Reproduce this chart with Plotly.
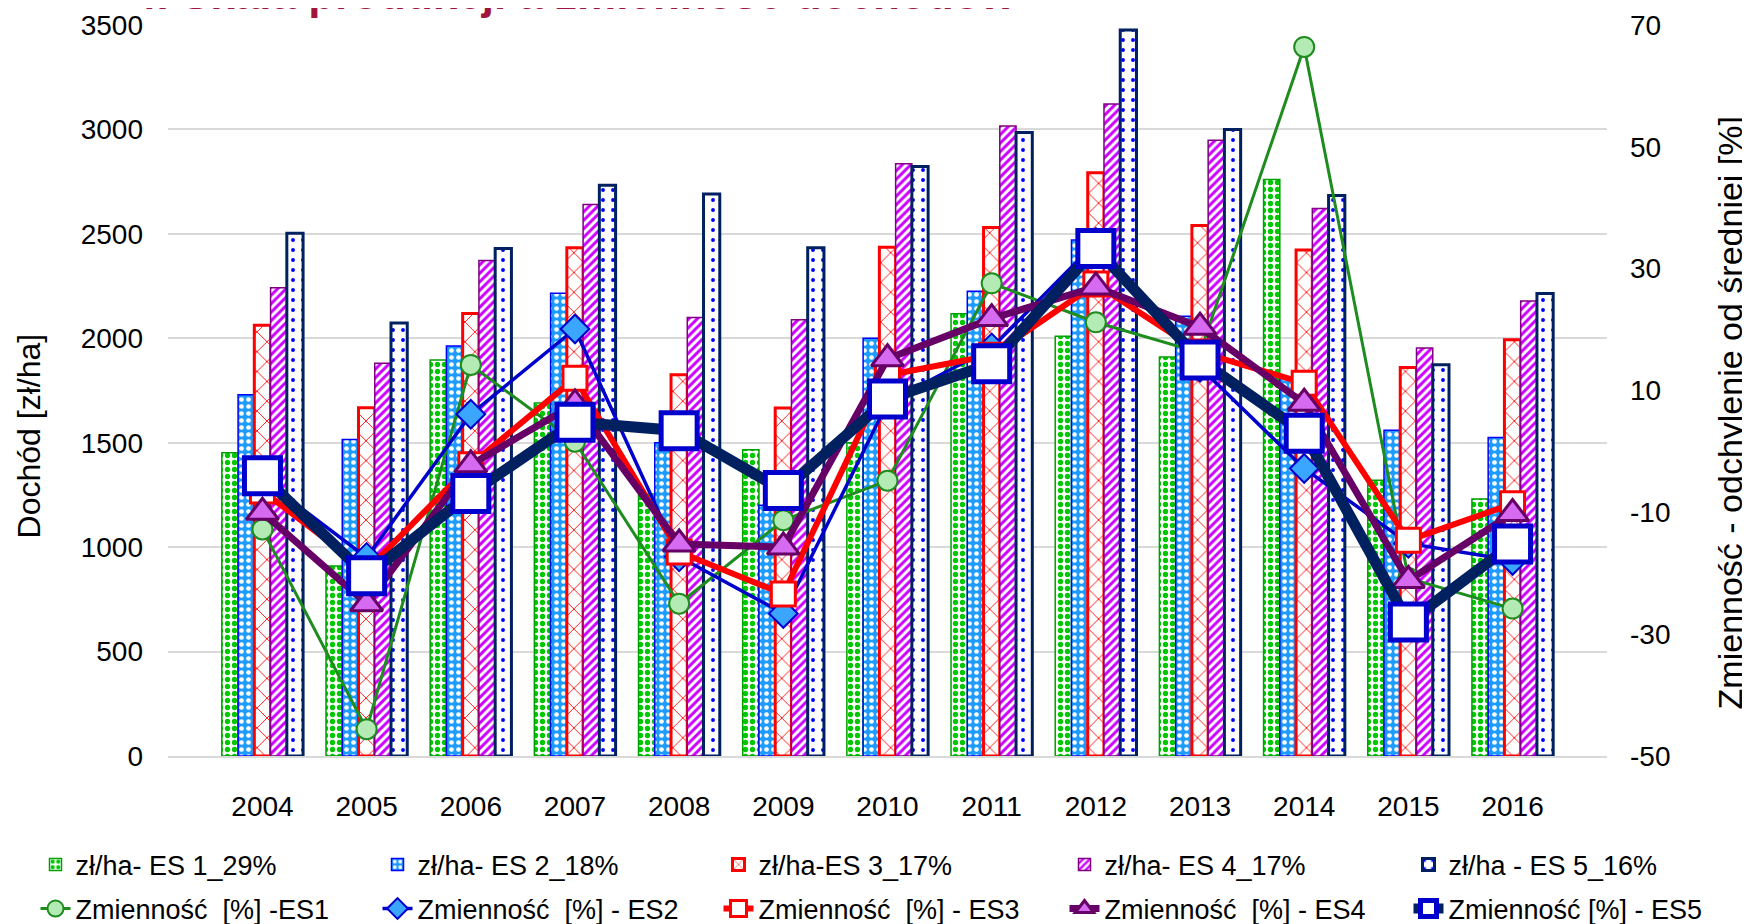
import plotly.graph_objects as go

years = [str(y) for y in range(2004, 2017)]

# income [zl/ha] per farm size class (bars, left axis)
inc_es1 = [1452, 910, 1896, 1690, 1255, 1466, 1500, 2118, 2010, 1910, 2760, 1320, 1230]
inc_es2 = [1730, 1515, 1963, 2216, 1500, 1200, 2000, 2225, 2470, 2106, 1810, 1560, 1525]
inc_es3 = [2063, 1668, 2119, 2434, 1825, 1666, 2436, 2530, 2792, 2540, 2423, 1860, 1993]
inc_es4 = [2242, 1881, 2372, 2640, 2100, 2089, 2836, 3017, 3122, 2948, 2621, 1954, 2179]
inc_es5 = [2503, 2073, 2430, 2733, 2691, 2434, 2823, 2985, 3476, 3000, 2684, 1873, 2215]

# variability [%] - deviation from mean (lines, right axis)
var_es1 = [-12.8, -45.6, 14.2, 1.6, -25.0, -11.3, -4.8, 27.6, 21.2, 16.2, 66.4, -20.8, -25.8]
var_es2 = [-4.5, -17.4, 6.1, 20.1, -17.3, -26.6, 8.0, 17.0, 34.3, 13.8, -2.8, -15.1, -17.9]
var_es3 = [-6.5, -19.5, -2.2, 12.0, -16.5, -23.4, 12.5, 15.8, 27.5, 16.3, 11.2, -14.6, -8.6]
var_es4 = [-10.0, -25.0, -2.2, 7.8, -15.2, -15.7, 15.2, 21.8, 27.0, 20.4, 7.9, -21.2, -10.2]
var_es5 = [-4.0, -20.4, -6.9, 4.8, 3.4, -6.4, 8.6, 14.4, 33.3, 15.0, 3.0, -28.0, -15.2]

bar_names = ["zł/ha- ES 1_29%", "zł/ha- ES 2_18%", "zł/ha-ES 3_17%",
             "zł/ha- ES 4_17%", "zł/ha - ES 5_16%"]
line_names = ["Zmienność  [%] -ES1", "Zmienność  [%] - ES2", "Zmienność  [%] - ES3",
              "Zmienność  [%] - ES4", "Zmienność [%] - ES5"]

left_ticks = [0, 500, 1000, 1500, 2000, 2500, 3000, 3500]
right_ticks = [-50, -30, -10, 10, 30, 50, 70]
right_tick_labels = ["-50", "-30", "-10", "10", "30", "50", "70"]

FONT = "Liberation Sans, Arial, sans-serif"

# figure drawn inside the page's default 8px body margin
W, H = 1742, 916
ML, MR, MT, MB = 160, 143, 16.6, 168.4

bar_styles = [
    dict(bg="#FFFFFF", fg="#00C800", shape=".", size=7, sol=0.45, line="#00A000", lw=1.5),
    dict(bg="#1E9BFF", fg="#FFFFFF", shape=".", size=7, sol=0.35, line="#0000FF", lw=1.5),
    dict(bg="#FFFFFF", fg="#FF0000", shape="x", size=14, sol=0.12, line="#FF0000", lw=3),
    dict(bg="#FFFFFF", fg="#CC00FF", shape="/", size=6, sol=0.5, line="#800080", lw=1.5),
    dict(bg="#FFFFFF", fg="#0000FF", shape=".", size=10, sol=0.12, line="#002060", lw=3),
]
line_styles = [
    dict(color="#1E8C1E", width=3, symbol="circle", size=20, fill="#B4EBB4", mline="#1E8C1E", mlw=2),
    dict(color="#0000CC", width=3.5, symbol="diamond", size=22, fill="#3AA6FF", mline="#0000CC", mlw=2),
    dict(color="#FF0000", width=6, symbol="square", size=24, fill="#FFFFFF", mline="#FF0000", mlw=3),
    dict(color="#660066", width=7, symbol="triangle-up", size=28, fill="#D66BF2", mline="#660066", mlw=3),
    dict(color="#002060", width=11, symbol="square", size=36, fill="#FFFFFF", mline="#0000CC", mlw=5),
]
legend_ids = ["legend", "legend2", "legend3", "legend4", "legend5"]

fig = go.Figure()
for i, (vals, name, st, lg) in enumerate(zip([inc_es1, inc_es2, inc_es3, inc_es4, inc_es5],
                                               bar_names, bar_styles, legend_ids)):
    fig.add_trace(go.Bar(
        x=years, y=vals, name=name, yaxis="y", legend=lg, legendgroup=f"bar{i}",
        marker=dict(color=st["bg"],
                    line=dict(color=st["line"], width=st["lw"]),
                    pattern=dict(shape=st["shape"], fgcolor=st["fg"], bgcolor=st["bg"],
                                 size=st["size"], solidity=st["sol"], fillmode="replace")),
    ))

for i, (vals, name, st, lg) in enumerate(zip([var_es1, var_es2, var_es3, var_es4, var_es5],
                                               line_names, line_styles, legend_ids)):
    fig.add_trace(go.Scatter(
        x=years, y=vals, name=name, yaxis="y2", legend=lg, legendgroup=f"line{i}",
        mode="lines+markers",
        line=dict(color=st["color"], width=st["width"]),
        marker=dict(symbol=st["symbol"], size=st["size"], color=st["fill"],
                    line=dict(color=st["mline"], width=st["mlw"])),
    ))

legend_x_px = [27.5, 369.5, 710.5, 1056.5, 1400.5]
legends = {}
for lg, xp in zip(legend_ids, legend_x_px):
    legends[lg] = dict(orientation="v", xref="container", yref="container", x=xp / W, y=0.0913,
                       xanchor="left", yanchor="top", font=dict(size=27),
                       bgcolor="rgba(0,0,0,0)", tracegroupgap=6, traceorder="grouped")

fig.update_layout(
    width=W, height=H,
    paper_bgcolor="white", plot_bgcolor="white",
    font=dict(family=FONT, size=28, color="#000000"),
    margin=dict(l=ML, r=MR, t=MT, b=MB, autoexpand=False),
    barmode="group", bargap=0.22, bargroupgap=0.0,
    xaxis=dict(type="category", showgrid=False, showline=True, linecolor="#D9D9D9", linewidth=2,
               ticks="", ticklabelstandoff=24, tickfont=dict(size=28), automargin=False),
    yaxis=dict(range=[0, 3500], tickvals=left_ticks, showgrid=True, gridcolor="#D9D9D9", gridwidth=2,
               zeroline=False, showline=False, ticks="", ticklabelstandoff=24,
               tickfont=dict(size=28), automargin=False),
    yaxis2=dict(range=[-50, 70], tickvals=right_ticks, ticktext=right_tick_labels,
                overlaying="y", side="right", showgrid=False, zeroline=False, showline=False,
                ticks="", ticklabelstandoff=22, tickfont=dict(size=28), automargin=False),
    annotations=[
        dict(text="<b>4. Skala produkcji a zmienność dochodów</b>", xref="paper", yref="paper",
             x=-0.0265, y=1.0065, xanchor="left", yanchor="bottom", showarrow=False,
             font=dict(family=FONT, size=44, color="#A0153E")),
        dict(text="Dochód [zł/ha]", xref="paper", yref="paper", x=-0.0966, y=0.4386,
             xanchor="center", yanchor="middle", textangle=-90, showarrow=False,
             font=dict(family=FONT, size=32)),
        dict(text="Zmienność - odchylenie od średniej [%]", xref="paper", yref="paper",
             x=1.0855, y=0.4687, xanchor="center", yanchor="middle", textangle=-90,
             showarrow=False, font=dict(family=FONT, size=34)),
    ],
    **legends,
)

fig.write_html("out.html")
